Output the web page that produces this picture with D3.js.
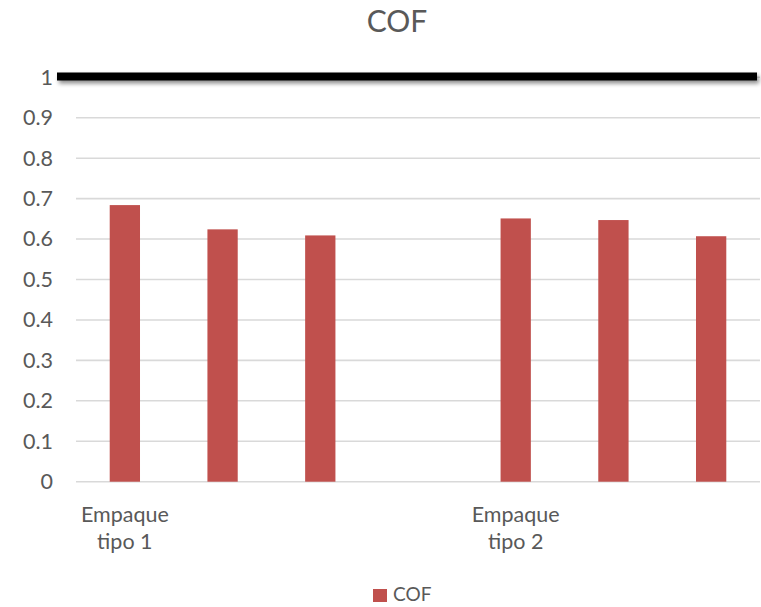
<!DOCTYPE html>
<html>
<head>
<meta charset="utf-8">
<script src="https://cdn.jsdelivr.net/npm/d3@7"></script>
<style>
  html, body { margin: 0; padding: 0; background: #fff; }
  svg { display: block; }
  text { font-family: Lato, "Liberation Sans", sans-serif; fill: #595959; }
</style>
</head>
<body>
<svg id="chart" width="761" height="607"></svg>
<script>
// Coefficient of friction per sample; the fourth slot is a spacer between packaging types
const slots = [0, 1, 2, 3, 4, 5, 6];
const slotLabels = ["Empaque tipo 1", "", "", "", "Empaque tipo 2", "", ""];
const cofValues = [0.684, 0.624, 0.609, null, 0.651, 0.647, 0.607];
const yTicks = [0, 0.1, 0.2, 0.3, 0.4, 0.5, 0.6, 0.7, 0.8, 0.9, 1];
const seriesName = "COF";
const limitValue = 1;

const svg = d3.select("#chart");
const plotTop = 77.3, plotBottom = 481.7;
const plotLeft = 76, plotRight = 760;
const labelSize = "21.5px";

const x = d3.scaleBand().domain(slots).range([plotLeft, plotRight]).paddingInner(0.69).paddingOuter(0.345);
const y = d3.scaleLinear().domain([0, 1]).range([plotBottom, plotTop]);

const defs = svg.append("defs");
const shadow = defs.append("filter").attr("id", "lineShadow")
  .attr("filterUnits", "userSpaceOnUse")
  .attr("x", 40).attr("y", 55).attr("width", 730).attr("height", 45);
shadow.append("feGaussianBlur").attr("in", "SourceAlpha").attr("stdDeviation", 2.2).attr("result", "blur");
shadow.append("feOffset").attr("in", "blur").attr("dx", 2).attr("dy", 3).attr("result", "off");
shadow.append("feComponentTransfer").attr("in", "off").attr("result", "soft")
  .append("feFuncA").attr("type", "linear").attr("slope", 0.45);
const merge = shadow.append("feMerge");
merge.append("feMergeNode").attr("in", "soft");
merge.append("feMergeNode").attr("in", "SourceGraphic");

// Title
svg.append("text")
  .attr("x", 397).attr("y", 32)
  .attr("text-anchor", "middle")
  .style("font-size", "30px")
  .text("COF");

// Gridlines
svg.append("g").selectAll("line")
  .data(yTicks)
  .join("line")
  .attr("x1", plotLeft).attr("x2", plotRight)
  .attr("y1", d => y(d)).attr("y2", d => y(d))
  .attr("stroke", "#d9d9d9").attr("stroke-width", 1.6);

// Y axis labels
const yAxis = d3.axisLeft(y).tickValues(yTicks).tickSize(0).tickPadding(0)
  .tickFormat(d => d3.format("")(+d.toFixed(1)));
const yg = svg.append("g").attr("transform", "translate(53,0)").call(yAxis);
yg.select(".domain").remove();
yg.selectAll("text").style("font-size", labelSize).style("font-family", "Lato, 'Liberation Sans', sans-serif").attr("fill", "#595959");

// Bars
svg.append("g").selectAll("rect")
  .data(slots.filter(i => cofValues[i] != null))
  .join("rect")
  .attr("x", i => x(i))
  .attr("width", x.bandwidth())
  .attr("y", i => y(cofValues[i]))
  .attr("height", i => y(0) - y(cofValues[i]))
  .attr("fill", "#c0504d");

// Limit line at 1
const lineW = 8;
svg.append("rect")
  .attr("x", 57).attr("width", 757 - 57)
  .attr("y", y(limitValue) - lineW / 2 - 0.8).attr("height", lineW)
  .attr("fill", "#000")
  .attr("filter", "url(#lineShadow)");

// X category labels (two lines each)
const xl = svg.append("g").selectAll("text")
  .data(slots.filter(i => slotLabels[i] !== ""))
  .join("text")
  .attr("text-anchor", "middle")
  .style("font-size", labelSize);
xl.each(function(i) {
  const words = slotLabels[i].split(" ");
  const lines = [words[0], words.slice(1).join(" ")];
  const cx = x(i) + x.bandwidth() / 2;
  d3.select(this).selectAll("tspan").data(lines).join("tspan")
    .attr("x", cx)
    .attr("y", (d, k) => 521.7 + k * 27.5)
    .text(d => d);
});

// Legend
const lg = svg.append("g");
lg.append("rect").attr("x", 373).attr("y", 589).attr("width", 14).attr("height", 13).attr("fill", "#c0504d");
lg.append("text").attr("x", 393).attr("y", 601).style("font-size", "19px").text(seriesName);
</script>
</body>
</html>
